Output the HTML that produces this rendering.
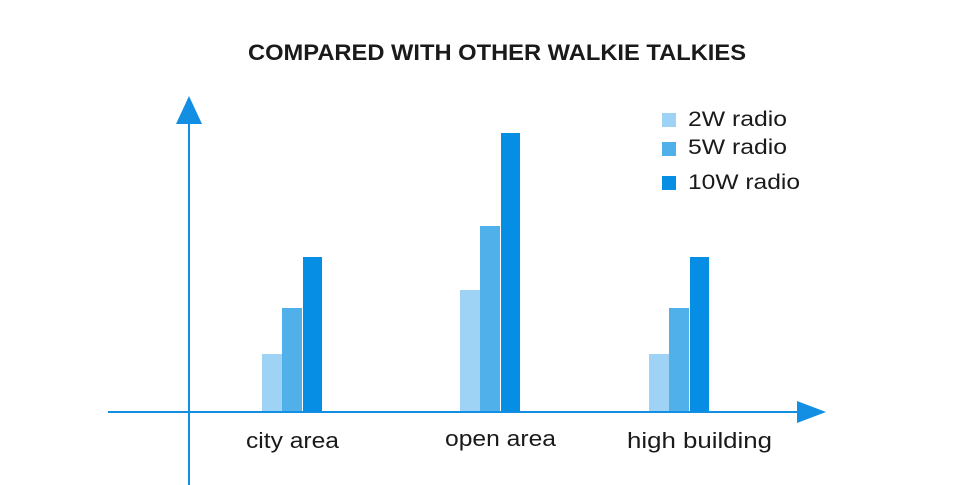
<!DOCTYPE html>
<html><head><style>
html,body{margin:0;padding:0;background:#fff;}
svg{display:block;}
text{font-family:"Liberation Sans",sans-serif;fill:#1a1a1a;}
</style></head><body>
<svg width="960" height="485" viewBox="0 0 960 485">
<text x="248" y="60" font-size="22" font-weight="bold" textLength="498" lengthAdjust="spacingAndGlyphs">COMPARED WITH OTHER WALKIE TALKIES</text>
<line x1="189" y1="115" x2="189" y2="485" stroke="#128fe2" stroke-width="2"/>
<polygon points="189,96 176,124 202,124" fill="#128fe2"/>
<line x1="108" y1="412" x2="805" y2="412" stroke="#128fe2" stroke-width="2"/>
<polygon points="826,412 797,401 797,423" fill="#128fe2"/>
<g>
<rect x="262" y="354" width="20" height="57" fill="#9fd3f5"/>
<rect x="282" y="308" width="20" height="103" fill="#50b1ea"/>
<rect x="303" y="257" width="19" height="154" fill="#058ee4"/>
<rect x="460" y="290" width="20" height="121" fill="#9fd3f5"/>
<rect x="480" y="226" width="20" height="185" fill="#50b1ea"/>
<rect x="501" y="133" width="19" height="278" fill="#058ee4"/>
<rect x="649" y="354" width="20" height="57" fill="#9fd3f5"/>
<rect x="669" y="308" width="20" height="103" fill="#50b1ea"/>
<rect x="690" y="257" width="19" height="154" fill="#058ee4"/>
</g>
<text x="246" y="448" font-size="22" textLength="93" lengthAdjust="spacingAndGlyphs">city area</text>
<text x="445" y="446" font-size="22" textLength="111" lengthAdjust="spacingAndGlyphs">open area</text>
<text x="627" y="448" font-size="22" textLength="145" lengthAdjust="spacingAndGlyphs">high building</text>
<rect x="662" y="113" width="14" height="14" fill="#9fd3f5"/>
<rect x="662" y="142" width="14" height="14" fill="#50b1ea"/>
<rect x="662" y="176" width="14" height="14" fill="#058ee4"/>
<text x="688" y="126" font-size="21" textLength="99" lengthAdjust="spacingAndGlyphs">2W radio</text>
<text x="688" y="154" font-size="21" textLength="99" lengthAdjust="spacingAndGlyphs">5W radio</text>
<text x="688" y="189" font-size="21" textLength="112" lengthAdjust="spacingAndGlyphs">10W radio</text>
</svg>
</body></html>
